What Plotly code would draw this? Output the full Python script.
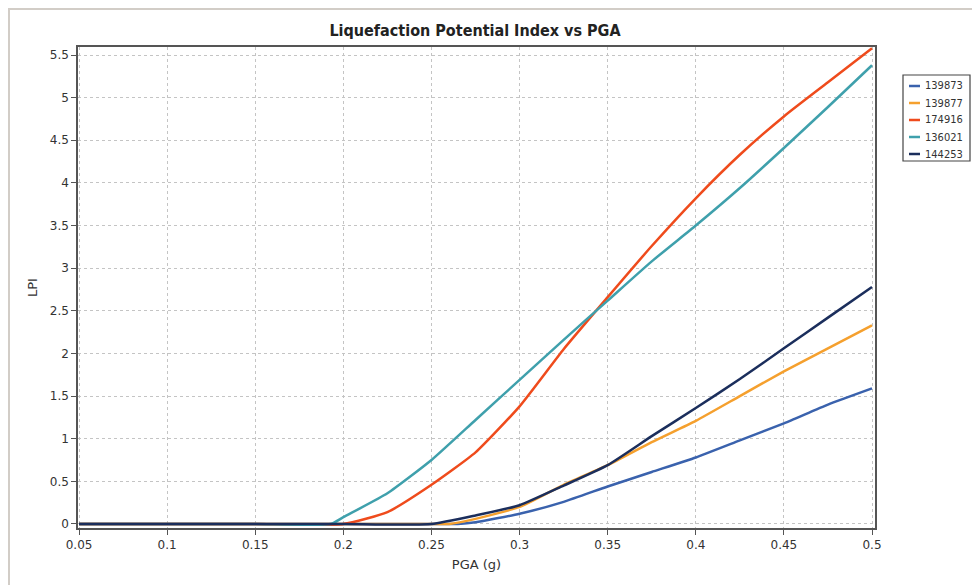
import plotly.graph_objects as go

# PGA values (g) and LPI readings per series
x_136021 = [0.05, 0.10, 0.15, 0.193, 0.20, 0.225, 0.25, 0.275, 0.30, 0.325, 0.35, 0.375, 0.40, 0.425, 0.45, 0.475, 0.50]
y_136021 = [0, 0, 0, 0, 0.08, 0.36, 0.75, 1.22, 1.69, 2.16, 2.62, 3.08, 3.50, 3.94, 4.41, 4.89, 5.38]

x_174916 = [0.05, 0.10, 0.15, 0.20, 0.225, 0.25, 0.275, 0.30, 0.325, 0.35, 0.375, 0.40, 0.425, 0.45, 0.475, 0.50]
y_174916 = [0, 0, 0, 0, 0.14, 0.46, 0.84, 1.38, 2.05, 2.66, 3.26, 3.82, 4.33, 4.78, 5.18, 5.58]

x_144253 = [0.05, 0.10, 0.15, 0.20, 0.25, 0.275, 0.30, 0.325, 0.35, 0.375, 0.40, 0.425, 0.45, 0.475, 0.50]
y_144253 = [0, 0, 0, 0, 0, 0.10, 0.22, 0.45, 0.69, 1.03, 1.36, 1.70, 2.06, 2.42, 2.78]

x_139877 = [0.05, 0.10, 0.15, 0.20, 0.25, 0.26, 0.275, 0.30, 0.325, 0.35, 0.375, 0.40, 0.425, 0.45, 0.475, 0.50]
y_139877 = [0, 0, 0, 0, 0, 0, 0.06, 0.20, 0.46, 0.69, 0.96, 1.21, 1.50, 1.79, 2.06, 2.33]

x_139873 = [0.05, 0.10, 0.15, 0.20, 0.25, 0.265, 0.275, 0.30, 0.325, 0.35, 0.375, 0.40, 0.425, 0.45, 0.475, 0.50]
y_139873 = [0, 0, 0, 0, 0, 0, 0.02, 0.12, 0.26, 0.44, 0.61, 0.78, 0.98, 1.18, 1.40, 1.59]

series = [
    ("139873", x_139873, y_139873, "#3a62ad"),
    ("139877", x_139877, y_139877, "#f5a02e"),
    ("174916", x_174916, y_174916, "#ef4b1c"),
    ("136021", x_136021, y_136021, "#3fa0ac"),
    ("144253", x_144253, y_144253, "#1b2e5c"),
]

x_ticks = [0.05, 0.1, 0.15, 0.2, 0.25, 0.3, 0.35, 0.4, 0.45, 0.5]
y_ticks = [0, 0.5, 1, 1.5, 2, 2.5, 3, 3.5, 4, 4.5, 5, 5.5]

OFF = 8  # page body margin offset
W, H = 980, 585
L, R, T, B = 78 - OFF, 875 - OFF, 47 - OFF, 528 - OFF  # plot area in figure pixels
PW, PH = R - L, B - T

fig = go.Figure()
for name, xs, ys, col in series:
    fig.add_trace(go.Scatter(x=xs, y=ys, mode="lines", name=name, showlegend=False,
                             line=dict(color=col, width=2.5, shape="spline", smoothing=0.5)))

font_family = "DejaVu Sans, Verdana, sans-serif"
fig.update_layout(
    width=W, height=H,
    paper_bgcolor="white", plot_bgcolor="white",
    margin=dict(l=L, r=W - R, t=T, b=H - B, autoexpand=False),
    title=dict(text="<b>Liquefaction Potential Index vs PGA</b>",
               x=(475 - OFF) / W, xanchor="center",
               y=1 - (30 - OFF) / H, yanchor="middle",
               font=dict(family="DejaVu Sans Condensed, DejaVu Sans, sans-serif", size=16, color="#222")),
    font=dict(family=font_family, size=12, color="#333"),
    showlegend=False,
)
fig.update_xaxes(
    range=[0.0494, 0.5017], tickvals=x_ticks,
    ticktext=[("%g" % v) for v in x_ticks],
    showgrid=True, gridcolor="#c4c4c4", griddash="dot", gridwidth=1,
    showline=True, linecolor="#555", linewidth=1.5, mirror=True,
    ticks="outside", ticklen=5, tickcolor="#555",
    zeroline=False,
    title=dict(text="PGA (g)", font=dict(size=13, color="#333"), standoff=9),
    tickfont=dict(size=12, color="#333"),
)
fig.update_yaxes(
    range=[-0.047, 5.594], tickvals=y_ticks,
    ticktext=[("%g" % v) for v in y_ticks],
    showgrid=True, gridcolor="#c4c4c4", griddash="dot", gridwidth=1,
    showline=True, linecolor="#555", linewidth=1.5, mirror=True,
    ticks="outside", ticklen=5, tickcolor="#555",
    zeroline=False,
    title=dict(text="LPI", font=dict(size=13, color="#333"), standoff=9),
    tickfont=dict(size=12, color="#333"),
)

def px_x(p):
    return (p - OFF - L) / PW

def px_y(p):
    return (B - (p - OFF)) / PH

# outer panel border
fig.add_shape(type="rect", xref="paper", yref="paper",
              x0=px_x(9), x1=px_x(1000), y0=px_y(620), y1=px_y(9),
              line=dict(color="#d2cdc7", width=2), fillcolor="rgba(0,0,0,0)", layer="below")

# custom legend (short line glyphs as in the reference)
fig.add_shape(type="rect", xref="paper", yref="paper",
              x0=px_x(903), x1=px_x(970), y0=px_y(161), y1=px_y(75),
              line=dict(color="#444", width=1.2), fillcolor="white")
for i, (name, xs, ys, col) in enumerate(series):
    yc = 86 + i * 17
    fig.add_shape(type="line", xref="paper", yref="paper",
                  x0=px_x(909), x1=px_x(920), y0=px_y(yc), y1=px_y(yc),
                  line=dict(color=col, width=2.5))
    fig.add_annotation(xref="paper", yref="paper", x=px_x(923), y=px_y(yc),
                       text=name, showarrow=False, xanchor="left", yanchor="middle",
                       font=dict(family="DejaVu Sans Condensed, DejaVu Sans, sans-serif", size=11, color="#333"))

fig.write_html("out.html")
